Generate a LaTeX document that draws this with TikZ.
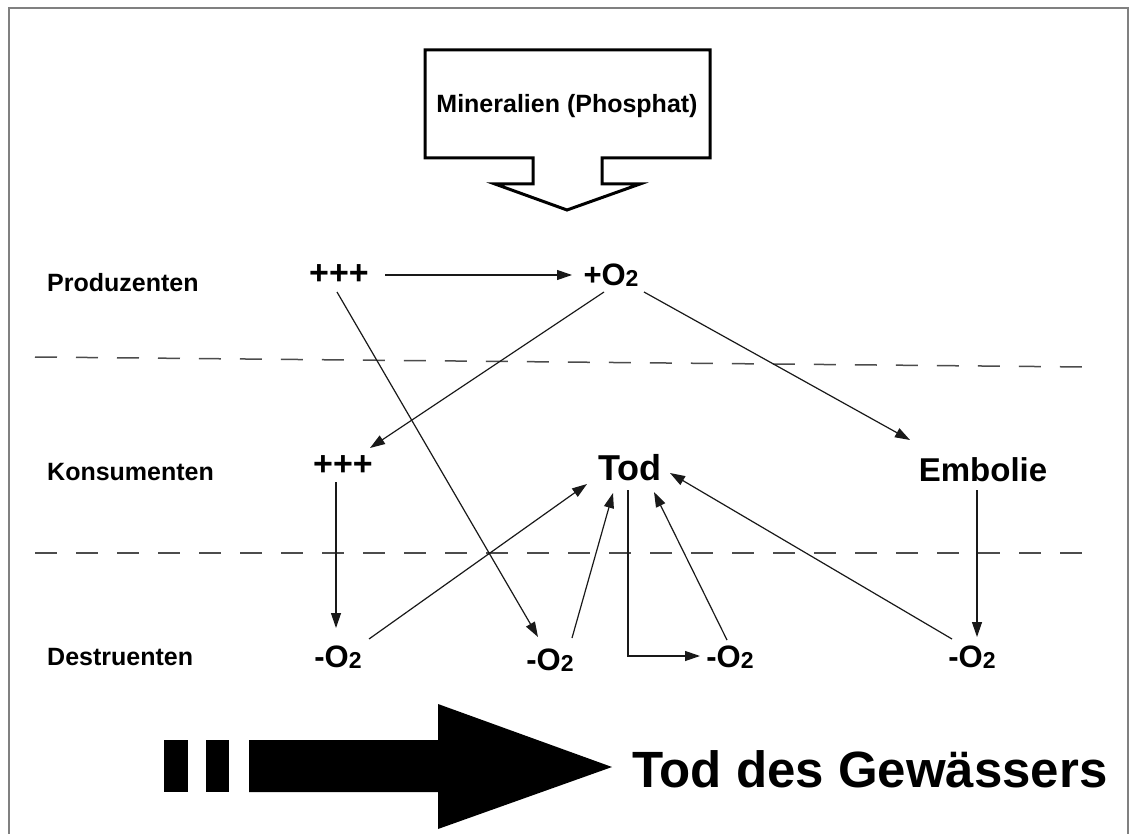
\documentclass[tikz,border=0pt]{standalone}
\usepackage{fontspec}
\setmainfont{Liberation Sans}
\usetikzlibrary{arrows.meta,calc}
\newcommand\setfs[1]{\fontsize{#1}{#1}\selectfont}
\newcommand\Otwo{O{\setfs{23}\raisebox{-1pt}{2}}}
\begin{document}
\begin{tikzpicture}[x=1pt,y=-1pt,
  lbl/.style={font=\bfseries\setfs{25}, anchor=west, inner sep=0},
  val/.style={font=\bfseries\setfs{31}, inner sep=0},
  conn/.style={line width=1.2pt, draw=black!90, -{Triangle[length=15pt,width=10pt]}},
  sepline/.style={draw=black!70, line width=1.5pt, dash pattern=on 22pt off 19pt},
]
\useasboundingbox (0,0) rectangle (1129,834);
\fill[white] (0,0) rectangle (1129,834);
\draw[gray, line width=2pt] (8.5,834) -- (8.5,8) -- (1128,8) -- (1128,834);

% callout arrow
\draw[line width=3pt, line join=miter] (425,50) -- (710,50) -- (710,158) -- (602,158) -- (602,184) -- (640,184) -- (567,210) -- (495,184) -- (533,184) -- (533,158) -- (425,158) -- cycle;
\node[font=\bfseries\setfs{25}, inner sep=0] (min) at (567,106) {Mineralien (Phosphat)};

% separators
\draw[sepline] (35,357) -- (1087,367);
\draw[sepline] (35,553) -- (1087,553);

% row labels
\node[lbl] (prod) at (47,283) {Produzenten};
\node[lbl] (kons) at (47,472) {Konsumenten};
\node[lbl] (dest) at (47,657) {Destruenten};

% values
\node[val, font=\bfseries\setfs{34}] (pa) at (339,275) {+++};
\node[val] (po) at (611,275) {+\Otwo};
\node[val, font=\bfseries\setfs{34}] (ka) at (343,466) {+++};
\node[val, font=\bfseries\setfs{36}] (tod) at (630,468) {Tod};
\node[val, font=\bfseries\setfs{33}] (emb) at (983,470) {Embolie};
\node[val] (d1) at (338,657) {-\Otwo};
\node[val] (d2) at (550,660) {-\Otwo};
\node[val] (d3) at (730,657) {-\Otwo};
\node[val] (d4) at (972,657) {-\Otwo};

% connectors
\draw[conn] ($(pa)+(46,0)$) -- ($(po)+(-39,0)$);
\draw[conn] ($(pa)+(-2,17)$) -- ($(d2)+(-12,-23)$);
\draw[conn] ($(po)+(-7,17)$) -- ($(ka)+(27,-18)$);
\draw[conn] ($(po)+(33,17)$) -- ($(emb)+(-73,-30)$);
\draw[conn] ($(ka)+(-7,16)$) -- ($(d1)+(-2,-29)$);
\draw[conn] ($(d1)+(31,-18)$) -- ($(tod)+(-43,16)$);
\draw[conn] ($(d2)+(22,-22)$) -- ($(tod)+(-17,25)$);
\draw[conn] ($(tod)+(-2,22)$) |- ($(d3)+(-30,-1)$);
\draw[conn] ($(d3)+(-3,-17)$) -- ($(tod)+(24,24)$);
\draw[conn] ($(d4)+(-20,-18)$) -- ($(tod)+(40,5)$);
\draw[conn] ($(emb)+(-6,20)$) -- ($(d4)+(5,-20)$);

% big arrow
\fill (164,740) rectangle (188,792);
\fill (206,740) rectangle (229,792);
\fill (249,740) -- (438,740) -- (438,704) -- (612,767) -- (438,829) -- (438,792) -- (249,792) -- cycle;
\node[font=\bfseries\setfs{51}, anchor=base west, inner sep=0] (gw) at (632,787) {Tod des Gewässers};
\end{tikzpicture}
\end{document}
